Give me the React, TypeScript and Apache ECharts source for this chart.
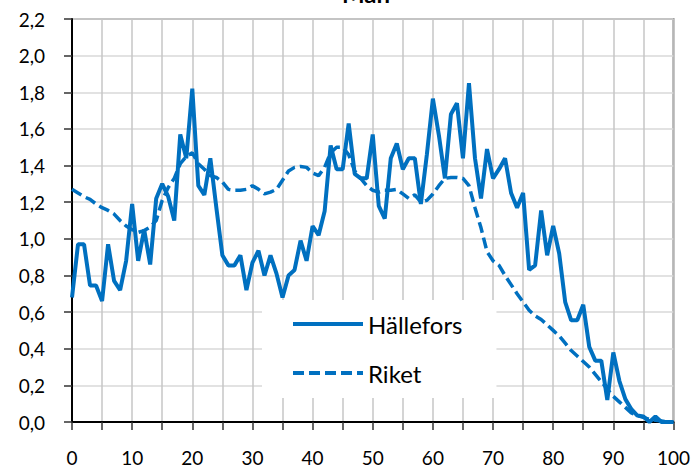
import React, { useEffect, useRef } from "react";
import * as echarts from "echarts";

const title = "Män";
const seriesNames = ["Hällefors", "Riket"];
const ages: number[] = Array.from({ length: 101 }, (_, i) => i);

const hallefors: number[] = [
  0.68, 0.97, 0.97, 0.745, 0.745, 0.66, 0.97, 0.77, 0.72, 0.88,
  1.19, 0.88, 1.05, 0.86, 1.22, 1.30, 1.23, 1.10, 1.57, 1.44,
  1.82, 1.29, 1.24, 1.44, 1.17, 0.91, 0.855, 0.855, 0.91, 0.72,
  0.87, 0.935, 0.80, 0.91, 0.81, 0.68, 0.80, 0.83, 0.99, 0.88,
  1.07, 1.02, 1.15, 1.51, 1.38, 1.38, 1.63, 1.355, 1.33, 1.33,
  1.57, 1.18, 1.11, 1.44, 1.52, 1.38, 1.44, 1.44, 1.19, 1.46,
  1.765, 1.565, 1.33, 1.68, 1.74, 1.44, 1.85, 1.44, 1.22, 1.49,
  1.33, 1.38, 1.44, 1.25, 1.17, 1.25, 0.83, 0.855, 1.155, 0.91,
  1.07, 0.92, 0.655, 0.555, 0.555, 0.64, 0.41, 0.335, 0.335, 0.12,
  0.38, 0.225, 0.125, 0.07, 0.035, 0.03, 0.0, 0.03, 0.0, 0.0,
  0.0,
];

const riket: number[] = [
  1.27, 1.25, 1.23, 1.215, 1.19, 1.17, 1.155, 1.135, 1.10, 1.07,
  1.05, 1.035, 1.045, 1.065, 1.10, 1.21, 1.28, 1.33, 1.41, 1.45,
  1.47, 1.41, 1.38, 1.345, 1.335, 1.31, 1.27, 1.265, 1.265, 1.27,
  1.29, 1.27, 1.245, 1.255, 1.27, 1.32, 1.37, 1.39, 1.395, 1.39,
  1.36, 1.345, 1.39, 1.47, 1.50, 1.50, 1.46, 1.37, 1.33, 1.29,
  1.265, 1.255, 1.265, 1.265, 1.27, 1.245, 1.22, 1.24, 1.20, 1.21,
  1.245, 1.29, 1.33, 1.335, 1.335, 1.33, 1.29, 1.17, 1.06, 0.93,
  0.88, 0.855, 0.80, 0.75, 0.70, 0.655, 0.61, 0.58, 0.56, 0.53,
  0.50, 0.47, 0.43, 0.39, 0.36, 0.33, 0.30, 0.26, 0.22, 0.18,
  0.14, 0.11, 0.08, 0.05, 0.035, 0.025, 0.015, 0.01, 0.005, 0.0,
  0.0,
];

const BLUE = "#0070C0";
const FONT = "Lato, 'Open Sans', sans-serif";

export default function App() {
  const ref = useRef<HTMLDivElement>(null);
  useEffect(() => {
    if (!ref.current) return;
    const chart = echarts.init(ref.current, undefined, { renderer: "svg" });
    chart.setOption({
      animation: false,
      backgroundColor: "#ffffff",
      title: {
        text: title,
        left: 342,
        top: -19,
        padding: 0,
        textStyle: { fontFamily: FONT, fontSize: 24, fontWeight: "bold", color: "#000" },
      },
      grid: {
        left: 72,
        right: 19,
        top: 19,
        bottom: 53,
        show: true,
        borderColor: "#868686",
        borderWidth: 2,
        backgroundColor: "transparent",
      },
      legend: {
        orient: "vertical",
        left: 262,
        top: 300,
        padding: [9, 34, 10, 29],
        backgroundColor: "#ffffff",
        itemWidth: 70,
        itemHeight: 14,
        itemGap: 19,
        itemStyle: { opacity: 0 },
        lineStyle: { width: 4 },
        data: seriesNames,
        textStyle: { fontFamily: FONT, fontSize: 24, color: "#000", lineHeight: 30 },
      },
      xAxis: {
        type: "value",
        min: 0,
        max: 100,
        interval: 5,
        axisLine: { show: true, lineStyle: { color: "#000", width: 2 } },
        axisTick: { show: true, length: 8, lineStyle: { color: "#333", width: 1.5 } },
        axisLabel: {
          margin: 26,
          fontFamily: FONT,
          fontSize: 19,
          color: "#000",
          formatter: (v: number) => (v % 10 === 0 ? String(v) : ""),
        },
        splitLine: { show: true, lineStyle: { color: "#c6c6c6", width: 1.5 } },
      },
      yAxis: {
        type: "value",
        min: 0,
        max: 2.2,
        interval: 0.2,
        axisLine: { show: true, lineStyle: { color: "#000", width: 2 } },
        axisTick: { show: true, length: 8, lineStyle: { color: "#333", width: 1.5 } },
        axisLabel: {
          margin: 27,
          fontFamily: FONT,
          fontSize: 19,
          color: "#000",
          formatter: (v: number) => v.toFixed(1).replace(".", ","),
        },
        splitLine: { show: true, lineStyle: { color: "#d9d9d9", width: 1.5 } },
      },
      series: [
        {
          name: seriesNames[0],
          type: "line",
          symbol: "none",
          data: ages.map((a, i) => [a, hallefors[i]]),
          lineStyle: { color: BLUE, width: 4 },
          itemStyle: { color: BLUE },
          z: 3,
        },
        {
          name: seriesNames[1],
          type: "line",
          symbol: "none",
          data: ages.map((a, i) => [a, riket[i]]),
          lineStyle: { color: BLUE, width: 3.5, type: [11, 5] },
          itemStyle: { color: BLUE },
          z: 2,
        },
      ],
    });
    return () => chart.dispose();
  }, []);
  return (
    <div
      ref={ref}
      style={{ position: "fixed", left: 0, top: 0, width: 693, height: 475 }}
    />
  );
}
